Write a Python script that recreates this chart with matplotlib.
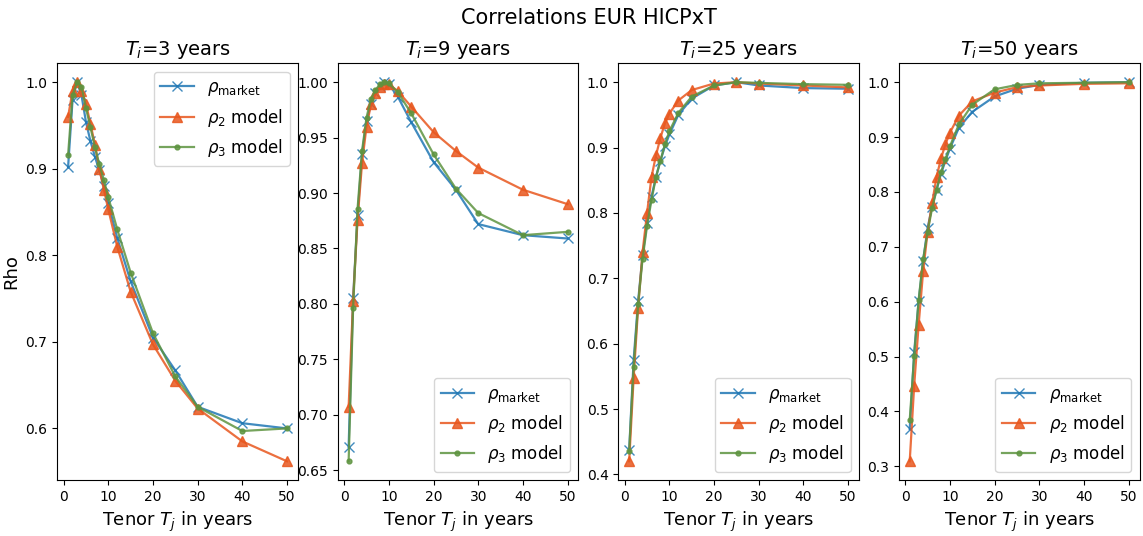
import numpy as np
import matplotlib
matplotlib.use("Agg")
import matplotlib.pyplot as plt

tenors = [1, 2, 3, 4, 5, 6, 7, 8, 9, 10, 12, 15, 20, 25, 30, 40, 50]
ti_years = [3, 9, 25, 50]

# market correlations per T_i
rho_market = {
    3: [0.902, 0.980, 1.000, 0.985, 0.954, 0.932, 0.914, 0.898, 0.880, 0.860, 0.820, 0.770, 0.705, 0.667, 0.625, 0.606, 0.600],
    9: [0.671, 0.805, 0.880, 0.935, 0.965, 0.980, 0.990, 0.997, 1.000, 0.998, 0.987, 0.964, 0.928, 0.903, 0.872, 0.862, 0.859],
    25: [0.437, 0.575, 0.665, 0.735, 0.785, 0.825, 0.855, 0.880, 0.902, 0.920, 0.950, 0.975, 0.995, 1.000, 0.995, 0.991, 0.990],
    50: [0.368, 0.508, 0.601, 0.674, 0.734, 0.773, 0.804, 0.833, 0.857, 0.879, 0.917, 0.946, 0.974, 0.988, 0.995, 0.999, 1.000],
}
# two-parameter model
rho2_model = {
    3: [0.960, 0.990, 1.000, 0.990, 0.975, 0.952, 0.928, 0.900, 0.876, 0.853, 0.810, 0.758, 0.697, 0.655, 0.623, 0.585, 0.562],
    9: [0.707, 0.803, 0.876, 0.927, 0.960, 0.980, 0.990, 0.996, 0.998, 0.998, 0.992, 0.978, 0.955, 0.938, 0.923, 0.903, 0.890],
    25: [0.420, 0.548, 0.655, 0.740, 0.800, 0.855, 0.888, 0.915, 0.937, 0.952, 0.972, 0.988, 0.998, 1.000, 0.998, 0.995, 0.992],
    50: [0.309, 0.447, 0.558, 0.655, 0.727, 0.779, 0.827, 0.861, 0.887, 0.908, 0.939, 0.965, 0.981, 0.991, 0.994, 0.997, 0.998],
}
# three-parameter model
rho3_model = {
    3: [0.916, 0.985, 1.000, 0.995, 0.970, 0.948, 0.925, 0.905, 0.887, 0.867, 0.830, 0.780, 0.710, 0.660, 0.625, 0.597, 0.600],
    9: [0.658, 0.796, 0.886, 0.938, 0.968, 0.985, 0.993, 0.998, 1.000, 0.999, 0.991, 0.972, 0.935, 0.904, 0.882, 0.862, 0.865],
    25: [0.435, 0.565, 0.660, 0.730, 0.780, 0.820, 0.855, 0.880, 0.905, 0.925, 0.953, 0.978, 0.995, 1.000, 0.999, 0.997, 0.996],
    50: [0.384, 0.501, 0.603, 0.677, 0.727, 0.770, 0.803, 0.836, 0.860, 0.883, 0.923, 0.959, 0.987, 0.995, 0.998, 0.999, 1.000],
}

fig, axes = plt.subplots(1, 4, figsize=(11.43, 5.36), dpi=100)
fig.subplots_adjust(left=0.05, right=0.997, top=0.882, bottom=0.104, wspace=0.165)
fig.suptitle("Correlations EUR HICPxT", fontsize=15, x=0.515, y=0.985)

for k, (ax, ti) in enumerate(zip(axes, ti_years)):
    ax.plot(tenors, rho_market[ti], marker="x", ms=7, color="#1f77b4", alpha=0.85,
            lw=1.6, label=r"$\rho_{\mathrm{market}}$")
    ax.plot(tenors, rho2_model[ti], marker="^", ms=7, color="#e8571e", alpha=0.85,
            lw=1.6, label=r"$\rho_2$ model")
    ax.plot(tenors, rho3_model[ti], marker=".", ms=7, color="#5e9440", alpha=0.85,
            lw=1.6, label=r"$\rho_3$ model")
    ax.set_title(r"$T_i$=%d years" % ti, fontsize=14)
    ax.set_xlabel(r"Tenor $T_j$ in years", fontsize=13)
    ax.set_xticks([0, 10, 20, 30, 40, 50])
    ax.tick_params(labelsize=10)
    if k == 0:
        ax.set_ylabel("Rho", fontsize=13)
        ax.legend(loc="upper right", fontsize=12)
    else:
        ax.legend(loc="lower right", fontsize=12)

fig.savefig("out.png", dpi=100)
